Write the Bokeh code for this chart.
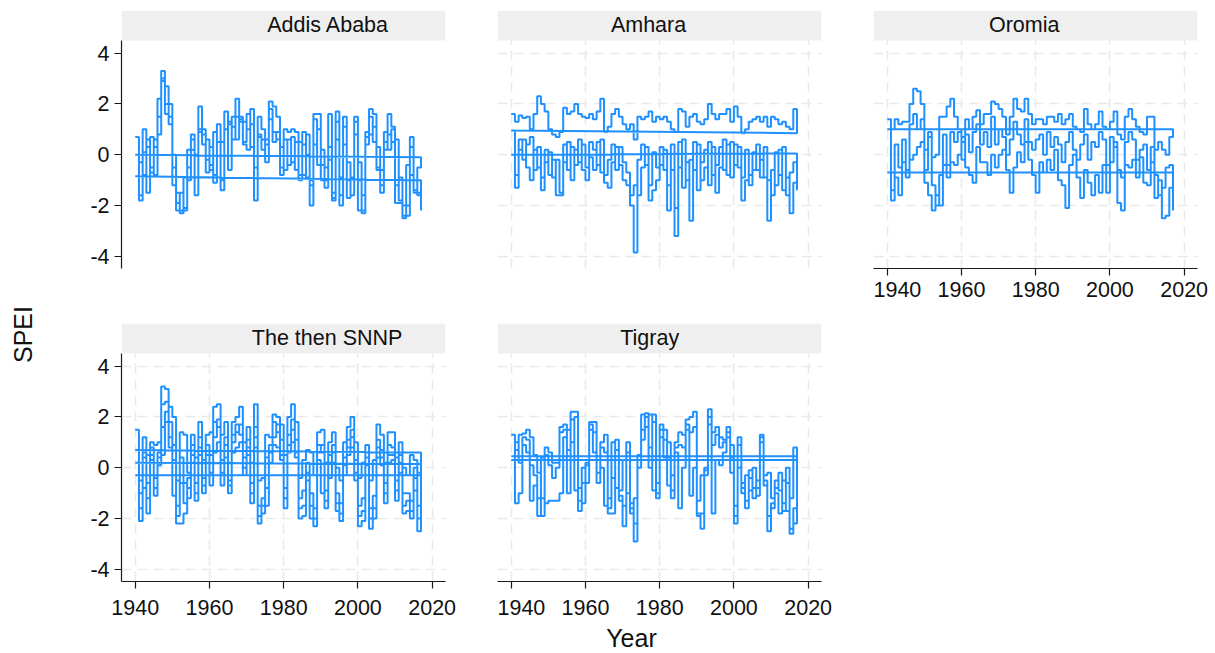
from math import pi
from bokeh.plotting import figure
from bokeh.models import Range1d, FixedTicker, BoxAnnotation, Label
from bokeh.layouts import row, column
from bokeh.embed import file_html
from bokeh.resources import INLINE

years = list(range(1940, 2018))
x_ticks = [1940, 1960, 1980, 2000, 2020]
y_ticks = [-4, -2, 0, 2, 4]
y_tick_labels = {-4: "-4", -2: "-2", 0: "0", 2: "2", 4: "4"}
regions = ["Addis Ababa", "Amhara", "Oromia", "The then SNNP", "Tigray"]

# ---- SPEI values (one value per year, 1940-2017) ----
addis_1 = [0.7, -1.8, 1.0, -1.5, 0.7, -0.8, 2.2, 3.3, 2.7, 2.0,
           -1.2, -2.2, -2.3, -2.1, -0.5, 0.8, -1.6, 1.9, 1.0, -0.7,
           0.3, -1.1, 1.2, -1.4, 1.7, -0.6, 1.5, 2.2, 1.5, 1.3,
           1.0, 1.8, -1.8, 1.5, 1.0, 0.4, 2.1, 1.9, 1.5, -0.8,
           1.0, 0.9, 1.0, 0.9, -1.0, 0.9, -0.9, -2.0, 1.6, 1.6,
           -1.0, -0.5, 1.6, -1.8, 1.7, -2.0, 1.5, -1.7, -1.6, 1.5,
           -2.2, -2.3, 0.9, 1.8, 1.6, -0.6, -1.5, 0.5, 1.6, 1.1,
           -1.9, -1.9, -2.5, -2.4, 0.7, -1.5, -0.5, -0.1]
addis_2 = [0.0, -1.6, 0.1, 0.6, -0.7, 0.6, 1.5, 3.0, 1.6, 1.2,
           -0.5, -1.5, -2.2, -0.9, 0.2, 0.6, 0.0, 1.0, 0.8, -0.2,
           -0.6, 0.9, 1.2, 0.5, 1.7, 1.3, 0.6, 1.5, 1.3, 0.5,
           1.6, 0.3, -0.5, 0.7, 0.6, -0.3, 1.8, 0.9, 0.6, 0.3,
           -0.6, 0.6, -0.3, 0.5, -0.8, 0.4, 0.0, -1.0, 1.4, -0.4,
           0.2, -1.3, -0.2, -1.5, 1.3, -0.9, 1.1, -0.3, -1.6, 0.8,
           -0.3, -2.2, 0.4, 0.8, 1.1, 0.3, -1.2, 0.9, 0.2, 1.0,
           0.6, -1.8, -2.0, -0.4, -0.8, -1.4, -1.6, -1.0]
addis_3 = [-0.85, -0.3, -0.8, 0.3, -0.5, 0.3, 0.8, 2.9, 2.0, 1.5,
           0.0, -1.9, -1.5, -2.2, -1.0, 0.2, -0.9, 0.9, 0.4, 0.6,
           -0.4, -0.8, 0.5, -1.0, 1.0, 1.2, 1.1, 0.6, 1.4, 0.4,
           0.2, 1.2, -0.5, 0.8, 0.2, 0.6, 1.4, 0.5, 0.9, -0.5,
           0.6, -0.4, 0.7, -0.6, 0.5, -0.8, 0.8, -1.2, 0.4, 1.0,
           -0.4, -1.0, 0.3, -1.7, 0.6, -1.6, 0.4, -1.0, -0.9, 1.3,
           -1.0, -1.6, 0.7, 1.5, 0.5, -0.5, -0.6, 0.2, 0.8, 0.5,
           -1.2, -0.9, -2.4, -2.0, 0.3, -1.0, -1.5, -2.2]

amhara_1 = [1.6, 1.3, 1.55, 1.45, 1.5, 1.0, 1.6, 2.3, 2.0, 1.7,
            1.0, 0.8, 0.7, 0.9, 1.85, 1.6, 1.7, 2.0, 1.6, 1.5,
            1.45, 1.6, 1.4, 1.7, 2.2, 0.9, 1.1, 1.6, 1.8, 1.5,
            1.2, 1.0, 1.2, 0.6, 1.5, 1.4, 1.5, 1.7, 1.3, 1.5,
            1.4, 1.5, 1.3, 1.0, 0.9, 1.8, 1.7, 1.1, 1.5, 1.6,
            1.3, 1.2, 1.4, 2.0, 1.6, 1.4, 1.6, 1.6, 1.8, 1.3,
            1.9, 1.5, 0.85, 1.0, 1.3, 1.4, 1.5, 1.3, 1.5, 1.1,
            1.5, 1.4, 1.2, 1.3, 1.1, 1.0, 1.8, 0.85]
amhara_2 = [0.95, -0.8, 0.2, 0.6, -0.5, -1.0, 0.2, -0.5, -1.4, 0.2,
            -0.8, -0.2, -1.6, -1.6, 0.4, -0.6, 0.3, -0.4, 0.6, -0.6,
            -1.0, -0.1, -0.6, 0.5, -0.7, -1.1, -1.3, -0.3, 0.3, -0.4,
            -1.0, -1.2, -2.0, -3.85, -0.2, 0.4, -0.4, -1.8, -1.4, -1.0,
            -0.4, 0.2, -2.2, -0.6, -3.2, 0.5, -1.3, -0.3, -2.6, 0.5,
            -1.4, -0.3, 0.2, -1.2, 0.3, -1.5, -0.5, 0.6, -0.8, 0.5,
            -0.4, 0.3, -1.8, -1.0, -0.8, 0.1, -0.6, -0.2, -0.9, -2.6,
            -0.6, -1.2, 0.2, -1.4, -0.9, -2.3, -1.1, 0.05]
amhara_3 = [0.0, -1.3, 0.6, -0.2, 0.4, 0.7, -0.6, 0.3, -0.9, -0.3,
            0.1, -0.9, -0.2, -1.5, -0.3, 0.5, -1.0, 0.2, -0.3, 0.4,
            -0.5, 0.5, 0.2, -0.4, 0.6, -0.8, -0.2, 0.4, -0.6, 0.3,
            -0.3, -0.7, -1.6, -1.2, -1.6, -0.5, 0.3, -1.2, 0.1, -0.5,
            0.3, -0.6, -1.2, 0.4, -2.1, -0.5, 0.6, -1.0, -0.2, -0.6,
            0.4, -1.0, -0.5, 0.5, -0.8, -0.4, 0.3, -0.6, 0.4, -0.9,
            0.4, -0.5, -0.9, 0.2, -1.2, -0.6, 0.4, -0.9, 0.3, -1.0,
            -1.6, 0.1, -0.8, 0.3, -1.6, -0.7, -0.3, -1.4]

oromia_1 = [1.4, 1.0, 1.4, 1.2, 1.3, 1.3, 2.0, 2.6, 2.5, 2.0,
            0.2, 0.9, -0.1, 0.0, 1.5, 1.5, 1.9, 2.2, 1.5, 1.0,
            0.7, 1.4, 1.0, 1.5, 1.75, 1.2, 1.6, 1.6, 2.1, 2.0,
            1.8, 1.5, 0.8, 1.5, 2.2, 1.8, 1.7, 2.2, 1.6, 1.2,
            1.4, 1.4, 1.2, 1.5, 1.5, 1.3, 1.6, 1.2, 1.4, 1.6,
            1.1, 1.0, 0.9, 1.8, 1.2, 1.0, 1.2, 1.7, 1.1, 1.0,
            1.3, 1.7, 0.8, 0.6, 1.5, 1.8, 1.4, 1.1, 0.9, 0.8,
            1.5, 1.5, 0.2, 0.5, 0.2, 0.0, 0.7, 1.0]
oromia_2 = [1.0, -1.8, -0.9, -1.6, -0.3, -0.9, -0.2, 0.0, 0.3, 0.5,
            -1.1, -1.6, -2.2, -1.6, -2.0, -0.4, -0.9, -0.3, -0.4, 0.0,
            0.5, -0.5, -0.8, -1.1, 0.3, -0.3, -0.3, -0.8, 0.0, -0.5,
            0.0, 0.2, -0.6, -1.5, -0.5, 0.1, -0.3, 0.5, -0.2, -0.8,
            -1.5, -0.3, -0.7, -0.2, -0.6, 0.2, -1.0, -1.2, -2.1, -0.4,
            0.0, -0.9, -1.7, -0.6, -1.1, -1.6, -0.8, -1.5, -0.4, -1.5,
            -0.3, 0.5, -1.9, -2.2, -0.4, -0.5, -0.2, -0.9, -0.1, -1.1,
            -1.2, -0.3, -1.7, -1.0, -2.5, -2.4, -1.3, -0.7]
oromia_3 = [-0.7, -1.4, 0.4, -0.5, 0.6, -0.6, 1.2, 1.6, 1.0, 1.4,
            -0.6, 0.7, -1.2, -2.0, -0.8, 0.8, -0.4, 0.9, 0.5, 0.9,
            -0.2, 0.8, 0.1, 0.9, 1.2, 0.4, 0.9, 0.3, 1.5, 0.4,
            1.0, 0.7, 0.0, 0.6, 1.3, 0.8, 0.4, 1.4, 0.5, 0.2,
            0.6, 0.8, 0.0, 0.9, 0.3, 0.7, 0.4, -0.3, 0.5, 0.9,
            0.2, -0.2, 0.4, 0.8, -0.2, 0.5, 0.3, 0.9, 0.6, -0.4,
            0.7, 0.3, -0.6, -0.9, 0.5, 0.9, 0.6, -0.2, 0.2, 0.4,
            -0.6, 0.3, -0.8, -1.6, -1.3, -0.5, -0.4, -2.2]

snnp_1 = [1.5, -0.5, 1.2, 0.5, 1.0, 0.9, 1.0, 3.2, 3.1, 2.4,
          2.0, -0.5, 1.4, 1.3, -0.2, 1.3, 0.4, 1.8, 0.3, 1.3,
          1.4, 2.4, 2.5, 1.3, 1.8, 0.2, 1.8, 2.0, 2.4, 1.0,
          1.6, 0.2, 2.5, -0.5, -0.4, 1.3, 1.2, 2.1, 2.0, 1.7,
          0.5, 2.0, 2.5, 1.8, -0.4, 0.3, 0.7, 0.6, -0.3, 1.4,
          1.5, 0.2, 1.0, 1.4, 0.0, -0.5, 1.0, 1.6, 2.0, 1.0,
          -0.4, 0.2, 0.9, -0.5, 0.3, 1.7, 1.3, 0.2, 1.4, 1.4,
          0.4, 1.0, 0.0, -0.3, 0.5, 0.3, -0.2, 0.6]
snnp_2 = [0.7, -2.1, -0.8, -1.8, 0.3, -1.1, 0.4, 0.5, 1.8, 1.2,
          -1.1, -2.2, -2.2, -1.8, -1.2, 0.2, -1.3, 0.5, -1.0, 0.2,
          -0.7, 0.6, 1.0, -0.7, 0.4, -1.0, 0.6, 0.8, 1.0, -0.3,
          0.5, -1.4, 0.8, -2.2, -1.8, -1.5, 0.2, 0.9, 0.8, 0.3,
          -1.6, 0.6, 1.0, 0.4, -2.0, -1.9, -0.5, -2.0, -2.3, 0.3,
          -1.0, -1.6, -0.4, 0.2, -1.7, -2.1, -0.3, 0.5, 0.8, -0.5,
          -2.3, -2.1, -0.3, -2.4, -2.0, 0.4, 0.1, -1.4, 0.2, 0.3,
          -1.3, -0.2, -1.8, -1.7, -2.0, -0.9, -2.5, 0.15]
snnp_3 = [0.2, -1.6, 0.4, -0.6, 0.8, -0.4, 0.1, 2.5, 2.6, 1.8,
          0.9, -1.5, 0.4, -0.6, -0.8, 0.9, -0.6, 1.2, -0.4, 0.9,
          0.5, 1.8, 1.6, 0.3, 1.2, -0.5, 1.3, 1.4, 1.7, 0.4,
          1.1, -0.6, 1.6, -1.5, -1.2, 0.4, 0.6, 1.8, 1.4, 1.1,
          -0.8, 1.3, 1.9, 1.1, -1.2, -0.9, 0.2, -1.0, -1.6, 0.9,
          0.6, -0.9, 0.5, 0.9, -1.0, -1.4, 0.4, 1.1, 1.5, 0.3,
          -1.5, -1.2, 0.4, -1.6, -1.1, 1.1, 0.7, -0.6, 0.9, 0.8,
          -0.5, 0.5, -1.0, -1.0, -1.3, 0.0, -1.5, -0.3]
snnp_4 = [-0.3, -1.0, 0.6, -1.2, 0.5, -0.8, 0.6, 1.6, 2.2, 0.8,
          0.3, -1.9, -0.6, -1.4, -0.4, 0.5, -1.0, 0.8, -0.7, 0.5,
          -0.2, 1.2, 1.9, -0.2, 0.9, -0.7, 1.0, 1.7, 1.3, 0.0,
          0.8, -1.0, 1.2, -1.9, -1.5, -0.8, 0.9, 1.2, 1.7, 0.5,
          -1.2, 0.9, 1.5, 0.6, -1.6, -1.5, -0.2, -1.5, -2.0, 0.6,
          0.9, -1.3, 0.2, 0.6, -1.4, -1.8, 0.1, 0.8, 1.2, -0.2,
          -1.9, -1.7, 0.1, -2.0, -1.6, 0.8, 0.4, -1.0, 0.5, 0.5,
          -0.9, 0.2, -1.5, -1.3, -1.7, -0.4, -2.0, -2.4]

tigray_1 = [1.3, 0.7, 1.3, 1.35, 1.5, 1.2, 0.5, -0.2, -1.9, 0.8,
            0.6, 0.2, 0.2, 1.6, 1.7, 1.5, 2.2, 2.2, -0.8, -1.4,
            0.2, 1.8, 1.8, 0.3, 1.0, 1.3, -1.8, -1.8, 1.1, -1.3,
            -2.3, 1.0, -1.6, -2.9, 0.0, 1.1, 2.15, 0.0, 2.1, -1.2,
            1.7, 1.5, 1.0, -1.2, 1.0, 1.4, 1.3, 1.9, 2.0, 2.2,
            -1.8, -2.4, -0.3, 2.3, 1.4, 1.6, 1.2, 1.1, 1.6, 0.9,
            -2.2, 1.2, -0.8, -1.6, -0.1, -1.2, -0.8, 1.3, -0.7, -2.5,
            -1.6, -0.8, -0.2, -1.7, 0.0, -2.6, -2.2, 0.45]
tigray_2 = [0.45, -1.4, -1.0, 0.9, 0.6, -1.3, -0.7, -1.9, 0.4, -1.4,
            -1.3, -1.3, -1.3, -1.0, 1.2, -1.0, 1.9, -0.9, -1.7, 0.0,
            -0.6, 1.5, 0.6, -0.6, 0.0, -1.5, -1.2, 1.0, -0.8, -0.9,
            0.3, -1.0, -1.8, -1.2, 0.5, 2.1, 1.6, 2.1, -0.9, -0.6,
            1.2, 0.4, -0.7, -0.3, 0.6, -1.6, 0.0, 1.5, -1.1, 0.0,
            -1.3, -0.3, 0.0, 1.7, -1.8, 0.3, 0.1, 0.6, 1.2, -0.2,
            -1.5, 0.0, -1.0, -0.3, -0.9, 0.0, -1.1, 1.0, -0.3, -0.2,
            -1.2, -1.0, -1.8, -0.5, -1.7, -1.2, 0.8, 0.3]
tigray_3 = [0.3, 1.0, 0.2, 1.2, 1.1, 0.1, -0.3, -1.2, -1.2, 0.5,
            0.1, -0.4, 0.0, 1.4, 1.5, 0.7, 1.0, 2.0, -1.3, -0.6,
            0.1, 1.7, 1.4, -0.2, 0.8, 0.6, -1.6, -0.4, 0.7, -1.1,
            -1.5, 0.6, -1.4, -2.2, 0.3, 1.5, 2.0, 0.8, 1.8, -1.0,
            1.5, 1.1, 0.4, -0.9, 0.8, 0.9, 0.8, 1.7, 1.4, 1.6,
            -1.9, -1.8, -0.1, 2.0, 0.9, 1.3, 0.8, 1.0, 1.4, 0.4,
            -1.9, 0.9, -0.6, -1.3, -0.4, -0.8, -0.5, 1.2, -0.5, -1.9,
            -1.4, -0.5, -0.9, -1.4, -0.6, -2.4, -1.6, -1.4]

region_series = {
    "Addis Ababa": [addis_1, addis_2, addis_3],
    "Amhara": [amhara_1, amhara_2, amhara_3],
    "Oromia": [oromia_1, oromia_2, oromia_3],
    "The then SNNP": [snnp_1, snnp_2, snnp_3, snnp_4],
    "Tigray": [tigray_1, tigray_2, tigray_3],
}

FONT = "Liberation Sans"
BLUE = "#1E90FF"
AXIS = "#1a1a1a"
TEXT = "#111111"
X0, X1 = 1936.3, 2023.6
Y0, YDATA, Y1 = -4.48, 4.5, 5.68
LEFT_W = 60          # column holding the "SPEI" title
AXIS_W = 61          # room for the y tick labels inside the left panels


def series_path(series_list):
    # observations in file order: each series runs 1940-2017, then the next one starts
    xs, ys = [], []
    for s in series_list:
        for i, v in enumerate(s):
            xs.append(years[i])
            ys.append(v)
            if i + 1 < len(s):
                xs.append(years[i + 1])
                ys.append(v)
    return xs, ys


def panel(name, width, height, left, right, top, bottom, show_x, show_y, grid,
          title_x, x_standoff=6):
    p = figure(width=width, height=height,
               x_range=Range1d(X0, X1), y_range=Range1d(Y0, Y1),
               output_backend="svg", toolbar_location=None,
               x_axis_location="below" if show_x else None,
               y_axis_location="left" if show_y else None,
               min_border_left=left, min_border_right=right,
               min_border_top=top, min_border_bottom=bottom)
    p.outline_line_color = None
    p.background_fill_color = "white"
    p.border_fill_color = "white"
    p.xgrid.ticker = FixedTicker(ticks=x_ticks)
    p.ygrid.ticker = FixedTicker(ticks=y_ticks)
    for g in list(p.xgrid) + list(p.ygrid):
        g.grid_line_color = "#e9e9e9" if grid else None
        g.grid_line_width = 1.6
        g.grid_line_dash = "10 6"
    if show_x:
        ax = p.xaxis[0]
        ax.ticker = FixedTicker(ticks=x_ticks)
    if show_y:
        ay = p.yaxis[0]
        ay.ticker = FixedTicker(ticks=y_ticks)
        ay.bounds = (Y0, YDATA)
        ay.major_label_overrides = y_tick_labels
    for ax in list(p.xaxis) + list(p.yaxis):
        ax.axis_line_color = AXIS
        ax.axis_line_width = 1.2
        ax.major_tick_line_color = AXIS
        ax.major_tick_line_width = 1.2
        ax.major_tick_out = 7
        ax.major_tick_in = 0
        ax.minor_tick_line_color = None
        ax.major_label_text_font = FONT
        ax.major_label_text_font_size = "21.5px"
        ax.major_label_text_color = TEXT
    if show_x:
        p.xaxis[0].major_label_standoff = x_standoff
    if show_y:
        p.yaxis[0].major_label_standoff = 5

    xs, ys = series_path(region_series[name])
    p.line(xs, ys, line_color=BLUE, line_width=2.0)

    p.add_layout(BoxAnnotation(bottom=YDATA, fill_color="#efefef", fill_alpha=1.0,
                               line_color=None))
    p.add_layout(Label(x=title_x, y=5.09, text=name, text_align="center",
                       text_baseline="middle", text_font=FONT,
                       text_font_size="21.5px", text_color=TEXT))
    return p


def text_box(width, height, text, cx, cy, size, angle=0.0):
    f = figure(width=width, height=height, x_range=Range1d(0, width),
               y_range=Range1d(0, height), output_backend="svg",
               toolbar_location=None, x_axis_location=None, y_axis_location=None,
               min_border=0)
    f.outline_line_color = None
    f.xgrid.visible = False
    f.ygrid.visible = False
    f.add_layout(Label(x=cx, y=cy, text=text, angle=angle, text_align="center",
                       text_baseline="middle", text_font=FONT,
                       text_font_size=size, text_color=TEXT))
    return f


p1 = panel("Addis Ababa", 497 - LEFT_W, 313, AXIS_W, 52, 10, 45, False, True, False, 1992.0)
p2 = panel("Amhara", 376, 313, 0, 52, 10, 45, False, False, True, 1977.0)
p3 = panel("Oromia", 342, 313, 0, 18, 10, 45, True, False, True, 1976.9)
p4 = panel("The then SNNP", 497 - LEFT_W, 308, AXIS_W, 52, 10, 40, True, True, True,
           1991.7, x_standoff=11)
p5 = panel("Tigray", 376, 308, 0, 52, 10, 40, True, False, True, 1977.3, x_standoff=11)

y_title = text_box(LEFT_W, 653, "SPEI", 22, 653 - 334, "25px", angle=pi / 2)
x_title = text_box(1215 - LEFT_W, 32, "Year", 631 - LEFT_W, 16, "25px")

layout = row(y_title, column(row(p1, p2, p3), row(p4, p5), x_title))
open("out.html", "w").write(file_html(layout, INLINE))
